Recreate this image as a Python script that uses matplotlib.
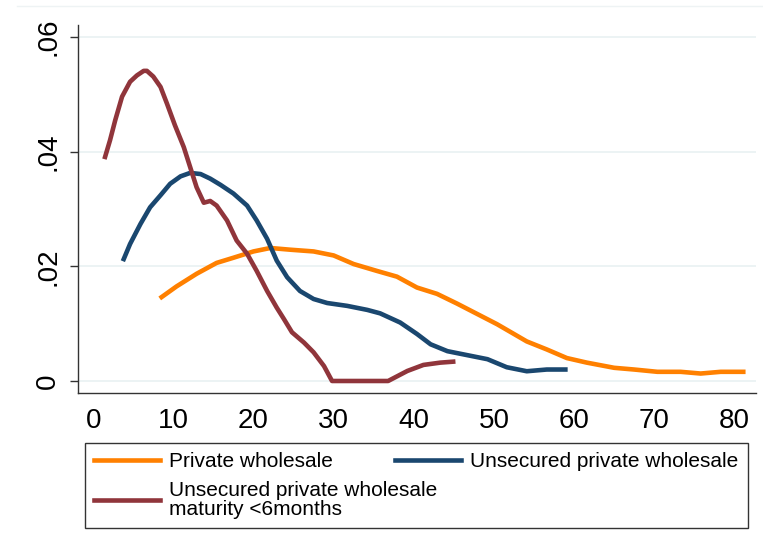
import matplotlib
matplotlib.use("Agg")
import matplotlib.pyplot as plt
from matplotlib.lines import Line2D

plt.rcParams['font.family'] = ['Liberation Sans', 'DejaVu Sans']

# density of maturity
pw_x = [8.3, 10.4, 12.9, 15.4, 17.5, 20.0, 22.1, 24.6, 27.5, 30.0, 32.5, 35.4, 37.9,
        40.4, 42.9, 45.4, 47.9, 50.4, 52.5, 54.1, 56.6, 59.1, 61.6, 65.0, 67.5, 70.4,
        73.3, 75.8, 78.3, 81.4]
pw_y = [0.0144, 0.0165, 0.0187, 0.0206, 0.0215, 0.0226, 0.0232, 0.0229, 0.0226, 0.0219,
        0.0204, 0.0192, 0.0182, 0.0163, 0.0152, 0.0135, 0.0117, 0.0099, 0.0082, 0.0069,
        0.0055, 0.0040, 0.0032, 0.0023, 0.0020, 0.0016, 0.0016, 0.0013, 0.0016, 0.0016]

upw_x = [3.7, 4.6, 5.9, 7.1, 8.4, 9.6, 10.9, 12.1, 13.4, 14.6, 15.9, 17.5, 19.2, 20.4,
         21.7, 22.9, 24.2, 25.8, 27.5, 29.2, 31.7, 34.2, 35.8, 38.3, 40.4, 42.1, 44.2,
         46.7, 49.2, 51.6, 54.1, 56.6, 59.2]
upw_y = [0.0209, 0.0239, 0.0274, 0.0303, 0.0324, 0.0344, 0.0357, 0.0363, 0.0361, 0.0353,
         0.0342, 0.0327, 0.0306, 0.0280, 0.0248, 0.0210, 0.0181, 0.0157, 0.0143, 0.0136,
         0.0131, 0.0124, 0.0118, 0.0102, 0.0082, 0.0064, 0.0052, 0.0045, 0.0038, 0.0024,
         0.0017, 0.0020, 0.0020]

ups_x = [1.4, 2.1, 2.75, 3.6, 4.6, 5.45, 6.3, 6.7, 7.5, 8.4, 9.2, 10.2, 11.3, 12.1, 12.9,
         13.8, 14.6, 15.4, 16.7, 17.9, 19.2, 20.4, 21.7, 22.9, 23.8, 24.8, 26.3, 27.5,
         28.8, 29.8, 36.8, 39.2, 41.2, 43.3, 45.2]
ups_y = [0.0387, 0.0420, 0.0455, 0.0496, 0.0522, 0.0533, 0.0541, 0.0541, 0.0531, 0.0513,
         0.0484, 0.0446, 0.0408, 0.0373, 0.0338, 0.0311, 0.0314, 0.0306, 0.0280, 0.0245,
         0.0222, 0.0192, 0.0157, 0.0128, 0.0108, 0.0085, 0.0067, 0.0050, 0.0026, 0.0,
         0.0, 0.00175, 0.0028, 0.0032, 0.0034]

labels = ['Private wholesale', 'Unsecured private wholesale',
          'Unsecured private wholesale\nmaturity <6months']
colors = ['#ff8000', '#1a476f', '#90353b']
xticks = [0, 10, 20, 30, 40, 50, 60, 70, 80]
yticks = [0, 0.02, 0.04, 0.06]
ytick_labels = ['0', '.02', '.04', '.06']

fig = plt.figure(figsize=(7.63, 5.52), dpi=100)
ax = fig.add_axes([0.1022, 0.288, 0.8886, 0.6667])

lw = 3.3
l1, = ax.plot(pw_x, pw_y, color=colors[0], lw=lw, solid_capstyle='butt')
l2, = ax.plot(upw_x, upw_y, color=colors[1], lw=lw, solid_capstyle='butt')
l3, = ax.plot(ups_x, ups_y, color=colors[2], lw=lw, solid_capstyle='butt')

ax.set_xlim(-1.9, 82.7)
ax.set_ylim(-0.0021, 0.0621)
ax.set_xticks(xticks)
ax.set_yticks(yticks)
ax.set_yticklabels(ytick_labels, rotation=90, va='center')
ax.tick_params(axis='x', length=0, pad=11, labelsize=20)
ax.tick_params(axis='y', length=6, width=1, color='#333333', pad=6, labelsize=20)
ax.grid(axis='y', color='#eaf2f3', lw=1.3)
ax.set_axisbelow(True)
for s in ['top', 'right']:
    ax.spines[s].set_visible(False)
for s in ['left', 'bottom']:
    ax.spines[s].set_color('#333333')
    ax.spines[s].set_linewidth(1)

# faint outer frame line at the top
fig.add_artist(Line2D([17 / 763, 1], [1 - 6 / 552, 1 - 6 / 552],
                      transform=fig.transFigure, color='#eef3f4', lw=1))

# legend fills column by column: orange, maroon | navy
handles = [Line2D([], [], color=colors[0], lw=lw),
           Line2D([], [], color=colors[2], lw=lw),
           Line2D([], [], color=colors[1], lw=lw)]
leg_labels = [labels[0], labels[2], labels[1]]
leg = fig.legend(handles, leg_labels, loc='upper left', ncol=2, mode='expand',
                 bbox_to_anchor=(85 / 763, 0.04, 663 / 763, 1 - 443 / 552 - 0.04),
                 bbox_transform=fig.transFigure, fontsize=15, frameon=True,
                 fancybox=False, handlelength=3.17, handletextpad=0.43,
                 labelspacing=0.45, borderpad=0.45, borderaxespad=0)
leg.get_frame().set_edgecolor('black')
leg.get_frame().set_linewidth(1)
for t in leg.get_texts():
    t.set_linespacing(1.0)

fig.savefig('out.png', dpi=100)
